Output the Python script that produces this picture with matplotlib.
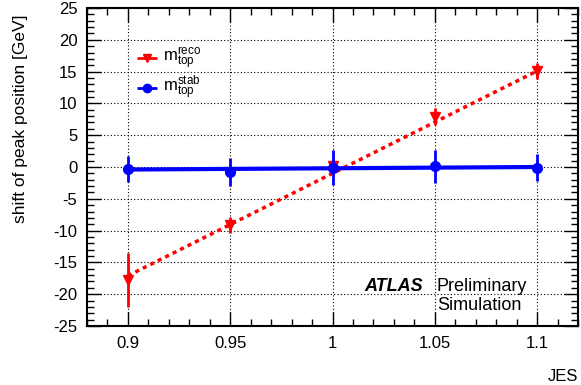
import numpy as np
import matplotlib
matplotlib.use("Agg")
import matplotlib.pyplot as plt
from matplotlib.ticker import MultipleLocator, FuncFormatter

plt.rcParams['font.family'] = ['Liberation Sans', 'DejaVu Sans']
plt.rcParams['mathtext.fontset'] = 'custom'
plt.rcParams['mathtext.rm'] = 'Liberation Sans'
plt.rcParams['axes.unicode_minus'] = False

jes = [0.90, 0.95, 1.00, 1.05, 1.10]
reco_shift = [-17.8, -9.1, 0.2, 7.9, 15.1]
reco_err = [4.2, 1.2, 1.0, 1.3, 1.3]
stab_shift = [-0.3, -0.8, -0.1, 0.1, -0.1]
stab_err = [2.0, 2.2, 2.7, 2.6, 2.1]

# linear fit lines, values at first and last JES point
fit_jes = [0.90, 1.10]
reco_fit = [-17.1, 15.1]
stab_fit = [-0.4, 0.0]

fig = plt.figure(figsize=(5.81, 3.85), dpi=100)
ax = fig.add_axes([87/581, 1-326/385, 491/581, 318/385])

ax.plot(fit_jes, reco_fit, color='red', ls=(0, (1.2, 1.2)), lw=2.5, zorder=3)
ax.errorbar(jes, reco_shift, yerr=reco_err, fmt='v', color='red', ms=7,
            elinewidth=2, capsize=0, zorder=4)
ax.plot(fit_jes, stab_fit, color='blue', lw=3, zorder=5)
ax.errorbar(jes, stab_shift, yerr=stab_err, fmt='o', color='blue', ms=7,
            elinewidth=2, capsize=0, zorder=6)

ax.set_xlim(0.88, 1.12)
ax.set_ylim(-25, 25)
ax.xaxis.set_major_locator(MultipleLocator(0.05))
ax.xaxis.set_minor_locator(MultipleLocator(0.01))
ax.yaxis.set_major_locator(MultipleLocator(5))
ax.yaxis.set_minor_locator(MultipleLocator(1))
ax.xaxis.set_major_formatter(FuncFormatter(lambda v, p: '%g' % round(v, 3)))
ax.yaxis.set_major_formatter(FuncFormatter(lambda v, p: '%g' % round(v, 3)))
ax.tick_params(which='both', direction='in', top=True, right=True, labelsize=12, width=1)
ax.tick_params(which='major', length=10, pad=7)
ax.tick_params(which='minor', length=5)
ax.grid(True, which='major', color='black', ls=(0, (1, 2)), lw=0.8)
for s in ax.spines.values():
    s.set_linewidth(1.5)

ax.set_ylabel('shift of peak position [GeV]', fontsize=12.5, loc='top')
ax.set_xlabel('JES', fontsize=12, loc='right')
ax.yaxis.set_label_coords(-0.12, 1 - 7/318)
ax.xaxis.set_label_coords(1.0, -0.135)

# legend
lx, ly1, ly2 = 0.88 + (147-87)/491*0.24, 25 - (58-8)/318*50, 25 - (88-8)/318*50
ax.errorbar([lx], [ly1], xerr=[0.005], fmt='v', color='red', ms=6, elinewidth=2, capsize=0)
ax.errorbar([lx], [ly2], xerr=[0.005], fmt='o', color='blue', ms=6, elinewidth=2, capsize=0)
ax.text(lx + 0.008, ly1, r'$\mathregular{m_{top}^{reco}}$', fontsize=12, va='center')
ax.text(lx + 0.008, ly2, r'$\mathregular{m_{top}^{stab}}$', fontsize=12, va='center')

fig.text(423/581, 1-291/385, 'ATLAS', fontsize=13, fontweight='bold', style='italic', ha='right', va='baseline')
fig.text(437/581, 1-291/385, 'Preliminary', fontsize=13, ha='left', va='baseline')
fig.text(437/581, 1-310/385, 'Simulation', fontsize=13, ha='left', va='baseline')

fig.savefig('out.png', dpi=100)
